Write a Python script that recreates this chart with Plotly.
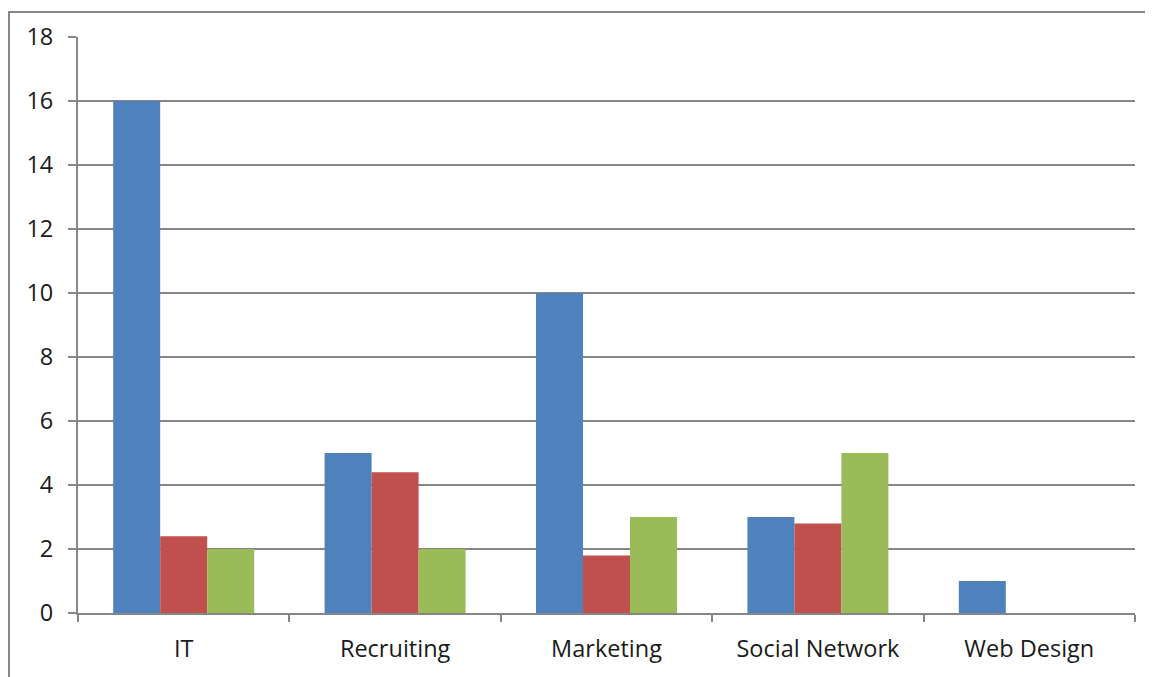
import plotly.graph_objects as go

categories = ["IT", "Recruiting", "Marketing", "Social Network", "Web Design"]
series1 = [16, 5, 10, 3, 1]
series2 = [2.4, 4.4, 1.8, 2.8, 0]
series3 = [2, 2, 3, 5, 0]
names = ["Series 1", "Series 2", "Series 3"]
colors = ["#4F81BD", "#C0504D", "#9BBB59"]

fig = go.Figure()
for name, vals, c in zip(names, [series1, series2, series3], colors):
    fig.add_trace(go.Bar(x=categories, y=vals, name=name, marker=dict(color=c, line=dict(width=0))))

font = dict(family="Open Sans, Noto Sans, sans-serif", size=23.5, color="#1a1a1a")
L, T = 70, 27
PW, PH = 1057, 578
fig.update_layout(
    width=1145, height=669,
    margin=dict(l=L, r=18, t=T, b=64),
    barmode="group", bargap=0.333, bargroupgap=0,
    showlegend=False,
    plot_bgcolor="white", paper_bgcolor="white",
    font=font,
    xaxis=dict(showline=True, linecolor="#868686", linewidth=2,
               ticks="outside", ticklen=7, tickcolor="#868686", tickwidth=2,
               tickson="boundaries", showgrid=False, ticklabelstandoff=14,
               tickfont=font),
    yaxis=dict(range=[0, 18], dtick=2, showline=True, linecolor="#868686", linewidth=2,
               showgrid=True, gridcolor="#868686", gridwidth=2,
               ticks="outside", ticklen=8, tickcolor="#868686", tickwidth=2,
               ticklabelstandoff=10, zeroline=False, tickfont=font),
    shapes=[dict(type="rect", xref="paper", yref="paper",
                 x0=(1 - L) / PW, x1=1.2, y0=-0.5, y1=1 + (T - 2) / PH,
                 line=dict(color="#868686", width=2), fillcolor="rgba(0,0,0,0)", layer="below")],
)
fig.write_html("out.html")
